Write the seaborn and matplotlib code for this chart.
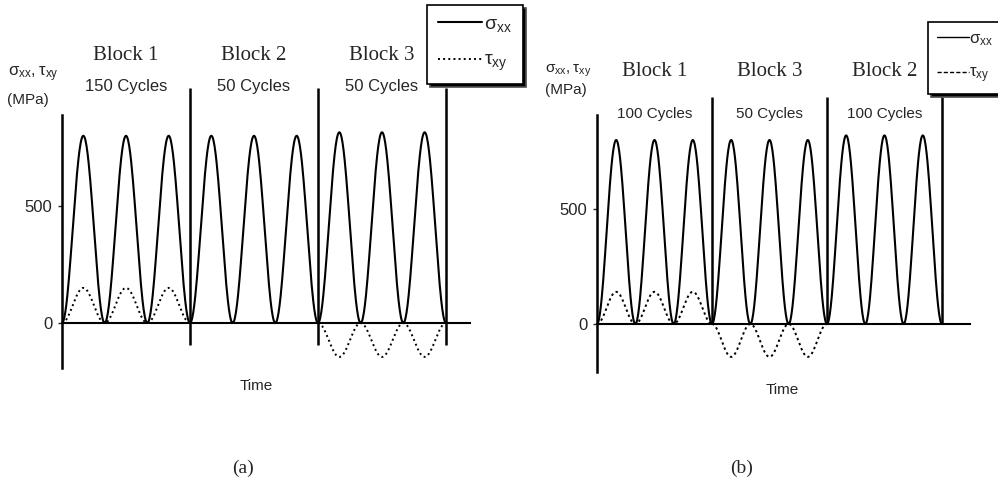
import numpy as np
import pandas as pd
import matplotlib
matplotlib.use("Agg")
import matplotlib.pyplot as plt
from matplotlib.lines import Line2D
import seaborn as sns

# ---------------- data ----------------
blocks_a = ["Block 1", "Block 2", "Block 3"]
cycles_a = ["150 Cycles", "50 Cycles", "50 Cycles"]
sigma_amp_a = [800, 800, 815]      # MPa, peak of sigma_xx per block
tau_amp_a = [150, 0, -145]         # MPa, peak of tau_xy per block

blocks_b = ["Block 1", "Block 3", "Block 2"]
cycles_b = ["100 Cycles", "50 Cycles", "100 Cycles"]
sigma_amp_b = [800, 800, 820]
tau_amp_b = [140, -143, 0]

cycles_drawn = 3                   # cycles drawn per block
yticks = [0, 500]
ytick_labels = ["0", "500"]

sns.set_style("white")
plt.rcParams["font.family"] = ["Liberation Sans", "DejaVu Sans"]
plt.rcParams["mathtext.default"] = "regular"

W, H = 998, 499
fig = plt.figure(figsize=(W / 100, H / 100), dpi=100)


def px_axes(left, top, right, bottom):
    return fig.add_axes([left / W, 1 - bottom / H, (right - left) / W, (bottom - top) / H])


def waveform(sig_amp, tau_amp):
    rows = []
    n = 80
    for b, (sa, ta) in enumerate(zip(sig_amp, tau_amp)):
        t = np.linspace(0, cycles_drawn, n * cycles_drawn + 1)
        shape = (1 - np.cos(2 * np.pi * t)) / 2
        for ti, s in zip(t, shape):
            rows.append({"t": b * cycles_drawn + ti, "sigma": sa * s, "tau": ta * s, "block": b})
    return pd.DataFrame(rows)


def panel(ax, blocks, cycles, sig_amp, tau_amp, xmax, ylim, tau_style,
          div_lo, div_hi, block_y, cyc_y, cyc_fs):
    df = waveform(sig_amp, tau_amp)
    for b in range(len(blocks)):
        d = df[df["block"] == b]
        sns.lineplot(data=d, x="t", y="tau", ax=ax, color="k", lw=1.4,
                     linestyle=tau_style, estimator=None, sort=False)
        sns.lineplot(data=d, x="t", y="sigma", ax=ax, color="k", lw=1.5,
                     estimator=None, sort=False)
    ax.set_xlim(0, xmax)
    ax.set_ylim(*ylim)
    for s in ["top", "right"]:
        ax.spines[s].set_visible(False)
    ax.spines["left"].set_linewidth(1.8)
    ax.spines["left"].set_color("k")
    ax.spines["bottom"].set_position(("data", 0))
    ax.spines["bottom"].set_linewidth(1.5)
    ax.spines["bottom"].set_color("k")
    ax.set_xticks([])
    ax.set_yticks(yticks)
    ax.set_yticklabels(ytick_labels, fontsize=12)
    ax.tick_params(axis="y", direction="out", length=3, width=1, pad=4, left=True)
    ax.set_xlabel("")
    ax.set_ylabel("")
    ax.set_facecolor("none")
    nb = len(blocks)
    ax.vlines([cycles_drawn * (i + 1) for i in range(nb)], div_lo, div_hi,
              color="k", lw=1.8, clip_on=False)
    for i in range(nb):
        xc = cycles_drawn * i + cycles_drawn / 2
        ax.text(xc, block_y, blocks[i], ha="center", va="center", fontsize=15,
                family="Liberation Serif", clip_on=False)
        ax.text(xc, cyc_y, cycles[i], ha="center", va="center", fontsize=cyc_fs,
                clip_on=False)


# ---------------- panel (a) ----------------
ax_a = px_axes(62, 115, 470, 368)
panel(ax_a, blocks_a, cycles_a, sigma_amp_a, tau_amp_a,
      xmax=408 / 42.667, ylim=(-(368 - 323) / 0.234, (323 - 115) / 0.234),
      tau_style=":", div_lo=-95, div_hi=1005,
      block_y=(323 - 55) / 0.234, cyc_y=(323 - 87) / 0.234, cyc_fs=12)

# ---------------- panel (b) ----------------
ax_b = px_axes(597, 115, 970, 372)
panel(ax_b, blocks_b, cycles_b, sigma_amp_b, tau_amp_b,
      xmax=373 / 38.33, ylim=(-(372 - 324) / 0.23, (324 - 115) / 0.23),
      tau_style=(0, (1.2, 1.6)), div_lo=0, div_hi=985,
      block_y=(324 - 72) / 0.23, cyc_y=(324 - 114) / 0.23, cyc_fs=11)

# ---------------- legends ----------------
leg_a = ax_a.legend(
    handles=[Line2D([], [], color="k", lw=1.5),
             Line2D([], [], color="k", lw=1.4, linestyle=":")],
    labels=[r"$\sigma_{xx}$", r"$\tau_{xy}$"],
    loc="upper left", bbox_to_anchor=(427 / W, 1 - 5 / H), bbox_transform=fig.transFigure,
    borderaxespad=0, fontsize=14, handlelength=2.3, handletextpad=0.1,
    labelspacing=0.9, borderpad=0.55, frameon=True, fancybox=False,
    edgecolor="k", framealpha=1, shadow={"facecolor": "k", "alpha": 1})
leg_a.get_frame().set_linewidth(1.2)

leg_b = ax_b.legend(
    handles=[Line2D([], [], color="k", lw=1.0),
             Line2D([], [], color="k", lw=1.0, linestyle=(0, (3, 1.5)))],
    labels=[r"$\sigma_{xx}$", r"$\tau_{xy}$"],
    loc="upper left", bbox_to_anchor=(928 / W, 1 - 22 / H), bbox_transform=fig.transFigure,
    borderaxespad=0, fontsize=12, handlelength=1.9, handletextpad=0.0,
    labelspacing=1.05, borderpad=0.55, frameon=True, fancybox=False,
    edgecolor="k", framealpha=1, shadow={"facecolor": "k", "alpha": 1})
leg_b.get_frame().set_linewidth(1.2)

# ---------------- free text ----------------
def ftext(x, y, s, **kw):
    fig.text(x / W, 1 - y / H, s, **kw)

ftext(8, 74, r"$\sigma_{xx},\tau_{xy}$", fontsize=12, ha="left", va="center")
ftext(7, 100, "(MPa)", fontsize=11, ha="left", va="center")
ftext(545, 71, r"$\sigma_{xx},\tau_{xy}$", fontsize=11, ha="left", va="center")
ftext(545, 90, "(MPa)", fontsize=11, ha="left", va="center")
ftext(256, 386, "Time", fontsize=11, ha="center", va="center")
ftext(782, 390, "Time", fontsize=11, ha="center", va="center")
ftext(243, 468, "(a)", fontsize=14, family="Liberation Serif", ha="center", va="center")
ftext(742, 468, "(b)", fontsize=14, family="Liberation Serif", ha="center", va="center")

fig.savefig("out.png", dpi=100)
